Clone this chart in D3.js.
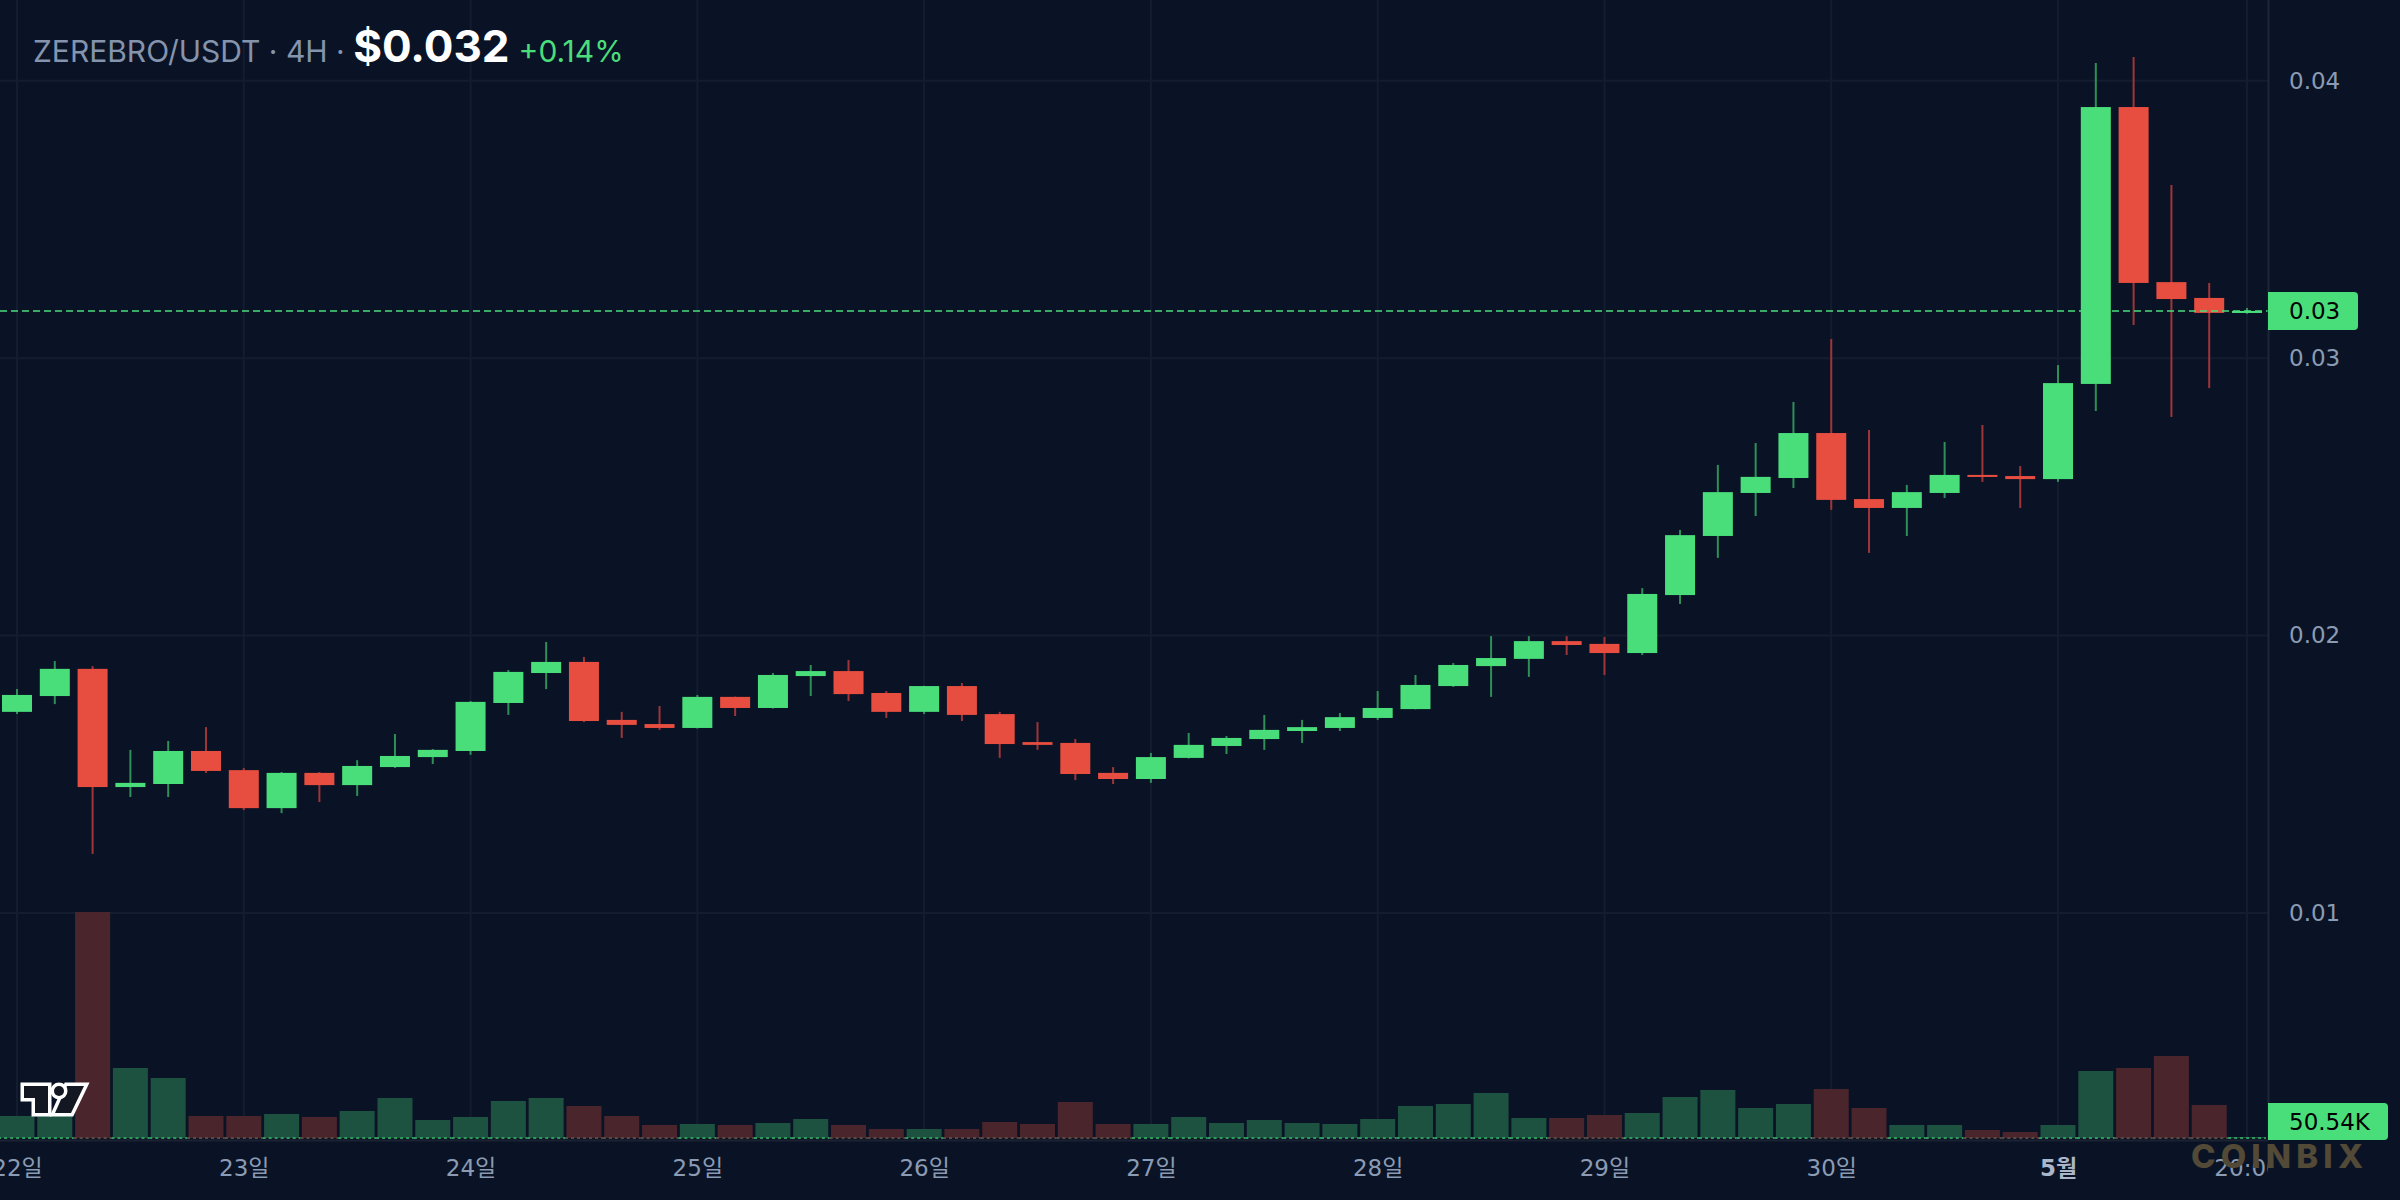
<!DOCTYPE html>
<html>
<head>
<meta charset="utf-8">
<script src="https://cdn.jsdelivr.net/npm/d3@7"></script>
<style>
  html, body { margin: 0; padding: 0; background: #0a1325; }
  svg { display: block; }
</style>
</head>
<body>
<svg id="chart" width="2400" height="1200"></svg>
<script>
// ---------------- DATA ----------------
const startTime = new Date(2025, 3, 22, 0, 0); // 22 Apr 00:00, 4H candles
const opens = [0.01725,0.01782,0.01880,0.01454,0.01465,0.01584,0.01515,0.01378,0.01505,0.01461,
  0.01526,0.01562,0.01584,0.01757,0.01865,0.01905,0.01696,0.01681,0.01667,0.01779,
  0.01739,0.01854,0.01872,0.01793,0.01725,0.01818,0.01717,0.01616,0.01613,0.01505,
  0.01483,0.01559,0.01602,0.01627,0.01656,0.01667,0.01703,0.01735,0.01818,0.01890,
  0.01916,0.01980,0.01970,0.01937,0.02146,0.02359,0.02514,0.02568,0.02730,0.02492,
  0.02460,0.02514,0.02579,0.02575,0.02564,0.02907,0.03905,0.03274,0.03217,0.03163];
const highs = [0.01807,0.01908,0.01890,0.01588,0.01620,0.01670,0.01523,0.01508,0.01508,0.01551,
  0.01645,0.01591,0.01764,0.01876,0.01977,0.01923,0.01725,0.01746,0.01786,0.01780,
  0.01865,0.01894,0.01912,0.01800,0.01819,0.01829,0.01725,0.01688,0.01627,0.01526,
  0.01577,0.01649,0.01638,0.01714,0.01696,0.01721,0.01800,0.01858,0.01901,0.01998,
  0.01998,0.01998,0.01995,0.02171,0.02381,0.02615,0.02694,0.02842,0.03069,0.02741,
  0.02543,0.02698,0.02759,0.02611,0.02975,0.04064,0.04085,0.03624,0.03271,0.03181];
const lows = [0.01717,0.01753,0.01213,0.01418,0.01418,0.01505,0.01371,0.01360,0.01400,0.01422,
  0.01523,0.01537,0.01570,0.01714,0.01807,0.01688,0.01631,0.01660,0.01665,0.01710,
  0.01737,0.01782,0.01764,0.01703,0.01717,0.01692,0.01559,0.01588,0.01479,0.01465,
  0.01469,0.01557,0.01573,0.01588,0.01613,0.01656,0.01696,0.01734,0.01815,0.01779,
  0.01851,0.01930,0.01858,0.01930,0.02114,0.02280,0.02431,0.02532,0.02453,0.02298,
  0.02359,0.02496,0.02554,0.02460,0.02554,0.02809,0.03119,0.02788,0.02892,0.03160];
const closes = [0.01786,0.01880,0.01454,0.01469,0.01584,0.01512,0.01378,0.01505,0.01461,0.01530,
  0.01566,0.01588,0.01761,0.01869,0.01905,0.01692,0.01678,0.01667,0.01779,0.01739,
  0.01858,0.01872,0.01789,0.01725,0.01818,0.01714,0.01609,0.01606,0.01501,0.01483,
  0.01562,0.01606,0.01631,0.01660,0.01670,0.01706,0.01739,0.01822,0.01894,0.01919,
  0.01980,0.01966,0.01937,0.02150,0.02362,0.02517,0.02572,0.02730,0.02489,0.02460,
  0.02517,0.02579,0.02572,0.02564,0.02910,0.03905,0.03271,0.03213,0.03163,0.03170];
const volumes = [1100000,1100000,11300000,3500000,3000000,1100000,1100000,1200000,1050000,1350000,
  2000000,900000,1050000,1850000,2000000,1600000,1100000,650000,700000,650000,
  750000,950000,650000,450000,450000,450000,800000,700000,1800000,700000,
  700000,1050000,750000,900000,750000,700000,950000,1600000,1700000,2250000,
  1000000,1000000,1150000,1250000,2050000,2400000,1500000,1700000,2450000,1500000,
  650000,650000,400000,300000,650000,3350000,3500000,4100000,1650000,50540];
const priceTicks = [0.01, 0.02, 0.03, 0.04];
const timeTickDates = [new Date(2025,3,22), new Date(2025,3,23), new Date(2025,3,24), new Date(2025,3,25),
  new Date(2025,3,26), new Date(2025,3,27), new Date(2025,3,28), new Date(2025,3,29), new Date(2025,3,30),
  new Date(2025,4,1), new Date(2025,4,1,20)];
const timeTickLabels = ["22일","23일","24일","25일","26일","27일","28일","29일","30일","5월","20:00"];
const boldTickLabels = ["5월"];
const headerPair = "ZEREBRO/USDT · 4H · ";
const headerPrice = "$0.032";
const headerChange = "+0.14%";
const lastPrice = closes[closes.length - 1];
const lastVolumeLabel = "50.54K";
const watermark = "COINBIX";

// ---------------- SETUP ----------------
const W = 2400, H = 1200;
const plotRight = 2268;
const volBase = 1138;
const svg = d3.select("#chart");
const C = {
  bg: "#0a1325", grid: "#141d2f", axisLine: "#1d2738", text: "#8b9bb4",
  up: "#4ade7b", down: "#e84e40", upWick: "#2f8f57", downWick: "#9e3539",
  upVol: "#1d5140", downVol: "#4a252c", upDot: "#2f9a5c", downDot: "#5a4a44"
};

const candles = opens.map((o, i) => ({
  t: d3.timeHour.offset(startTime, 4 * i), o, h: highs[i], l: lows[i], c: closes[i], v: volumes[i],
  up: closes[i] >= o
}));

const x = d3.scaleTime()
  .domain([candles[0].t, candles[candles.length - 1].t])
  .range([17, 2247]);
const y = d3.scaleLinear().domain([0.01, 0.04]).range([913, 80.7]);
const yv = d3.scaleLinear().domain([0, 11300000]).range([volBase, 912]);
const step = x(candles[1].t) - x(candles[0].t);
const bodyW = 30, volW = 35;

svg.append("rect").attr("width", W).attr("height", H).attr("fill", C.bg);

svg.append("defs").append("clipPath").attr("id", "plotClip")
  .append("rect").attr("x", 0).attr("y", 0).attr("width", plotRight).attr("height", H);

// grid
const grid = svg.append("g").attr("clip-path", "url(#plotClip)");
grid.selectAll("line.h").data(priceTicks).join("line")
  .attr("x1", 0).attr("x2", plotRight)
  .attr("y1", d => y(d)).attr("y2", d => y(d))
  .attr("stroke", C.grid).attr("stroke-width", 2);
grid.selectAll("line.v").data(timeTickDates).join("line")
  .attr("x1", d => x(d)).attr("x2", d => x(d))
  .attr("y1", 0).attr("y2", volBase)
  .attr("stroke", C.grid).attr("stroke-width", 2);

// volume bars
const vol = svg.append("g").attr("clip-path", "url(#plotClip)");
vol.selectAll("rect").data(candles).join("rect")
  .attr("x", d => x(d.t) - volW / 2)
  .attr("width", volW)
  .attr("y", d => yv(d.v))
  .attr("height", d => Math.max(0, volBase - yv(d.v)))
  .attr("fill", d => d.up ? C.upVol : C.downVol);
vol.selectAll("line").data(candles).join("line")
  .attr("x1", d => x(d.t) - step / 2).attr("x2", d => x(d.t) + step / 2)
  .attr("y1", volBase).attr("y2", volBase)
  .attr("stroke", d => d.up ? C.upDot : C.downDot)
  .attr("stroke-width", 2).attr("stroke-dasharray", "3 3");
svg.append("line").attr("x1", 0).attr("x2", plotRight).attr("y1", 1140.5).attr("y2", 1140.5)
  .attr("stroke", "#1a2232").attr("stroke-width", 2);

// candles
const cg = svg.append("g").attr("clip-path", "url(#plotClip)");
cg.selectAll("line").data(candles).join("line")
  .attr("x1", d => x(d.t)).attr("x2", d => x(d.t))
  .attr("y1", d => y(d.h)).attr("y2", d => y(d.l))
  .attr("stroke", d => d.up ? C.upWick : C.downWick)
  .attr("stroke-width", 2);
cg.selectAll("rect").data(candles).join("rect")
  .attr("x", d => x(d.t) - bodyW / 2)
  .attr("width", bodyW)
  .attr("y", d => y(Math.max(d.o, d.c)))
  .attr("height", d => Math.max(2, Math.abs(y(d.o) - y(d.c))))
  .attr("fill", d => d.up ? C.up : C.down);

// last price dashed line
svg.append("line")
  .attr("x1", 0).attr("x2", plotRight)
  .attr("y1", y(lastPrice)).attr("y2", y(lastPrice))
  .attr("stroke", C.up).attr("stroke-width", 1.6).attr("stroke-dasharray", "7 4");

// axis separator
svg.append("line").attr("x1", plotRight + 0.5).attr("x2", plotRight + 0.5)
  .attr("y1", 0).attr("y2", 1140).attr("stroke", C.axisLine).attr("stroke-width", 2);

// price axis
const yAxis = d3.axisRight(y).tickValues(priceTicks).tickFormat(d3.format(".2f"))
  .tickSize(0).tickPadding(21);
const ya = svg.append("g").attr("transform", `translate(${plotRight},0)`).call(yAxis);
ya.select(".domain").remove();
ya.selectAll("text").attr("fill", C.text).attr("font-family", "DejaVu Sans, sans-serif")
  .attr("font-size", 23);

// time axis
const xAxis = d3.axisBottom(x).tickValues(timeTickDates)
  .tickFormat((d, i) => timeTickLabels[i]).tickSize(0).tickPadding(20);
const xa = svg.append("g").attr("transform", "translate(0,1140)")
  .attr("clip-path", "url(#plotClip)").call(xAxis);
xa.select(".domain").remove();
xa.selectAll("text")
  .attr("font-family", "DejaVu Sans, 'Noto Sans CJK KR', sans-serif")
  .attr("font-size", 23)
  .attr("font-weight", (d, i) => boldTickLabels.includes(timeTickLabels[i]) ? 700 : 400)
  .attr("fill", (d, i) => boldTickLabels.includes(timeTickLabels[i]) ? "#aab6c9" : C.text);

// price badge
const py = y(lastPrice);
svg.append("path")
  .attr("d", `M${plotRight},${py - 19} H${plotRight + 86} Q${plotRight + 90},${py - 19} ${plotRight + 90},${py - 15} V${py + 15} Q${plotRight + 90},${py + 19} ${plotRight + 86},${py + 19} H${plotRight} Z`)
  .attr("fill", C.up);
svg.append("text").attr("x", 2289).attr("y", py).attr("dominant-baseline", "central")
  .attr("font-family", "DejaVu Sans, sans-serif").attr("font-size", 23).attr("fill", "#000")
  .text(d3.format(".2f")(lastPrice));

// volume badge
const vy = 1121.5;
svg.append("path")
  .attr("d", `M${plotRight},${vy - 18.5} H${plotRight + 116} Q${plotRight + 120},${vy - 18.5} ${plotRight + 120},${vy - 14.5} V${vy + 14.5} Q${plotRight + 120},${vy + 18.5} ${plotRight + 116},${vy + 18.5} H${plotRight} Z`)
  .attr("fill", C.up);
svg.append("text").attr("x", 2289).attr("y", vy).attr("dominant-baseline", "central")
  .attr("font-family", "DejaVu Sans, sans-serif").attr("font-size", 23).attr("fill", "#000")
  .text(lastVolumeLabel);

// watermark
svg.append("text").attr("x", 2191).attr("y", 1168)
  .attr("font-family", "Inter, sans-serif").attr("font-weight", 800).attr("font-size", 33)
  .attr("textLength", 172).attr("lengthAdjust", "spacing")
  .attr("fill", "#524937").text(watermark);

// TradingView-style logo
const logo = svg.append("g").attr("fill", "#131722").attr("stroke", "#ffffff")
  .attr("stroke-width", 7).attr("stroke-linejoin", "miter").style("paint-order", "stroke");
logo.append("path").attr("d", "M24,1086 H48 V1113 H35 V1098 H24 Z");
logo.append("path").attr("d", "M67,1086 H84 L71,1113 H55 Z");
logo.append("circle").attr("cx", 59).attr("cy", 1091).attr("r", 5);

// header
const hdr = svg.append("text").attr("x", 33).attr("y", 62).attr("font-family", "Inter, sans-serif");
hdr.append("tspan").attr("font-size", 30).attr("fill", "#8594ad").text(headerPair);
hdr.append("tspan").attr("font-size", 44).attr("font-weight", 700).attr("fill", "#ffffff").text(headerPrice);
hdr.append("tspan").attr("font-size", 30).attr("fill", C.up).attr("dx", 9).text(headerChange);
</script>
</body>
</html>
